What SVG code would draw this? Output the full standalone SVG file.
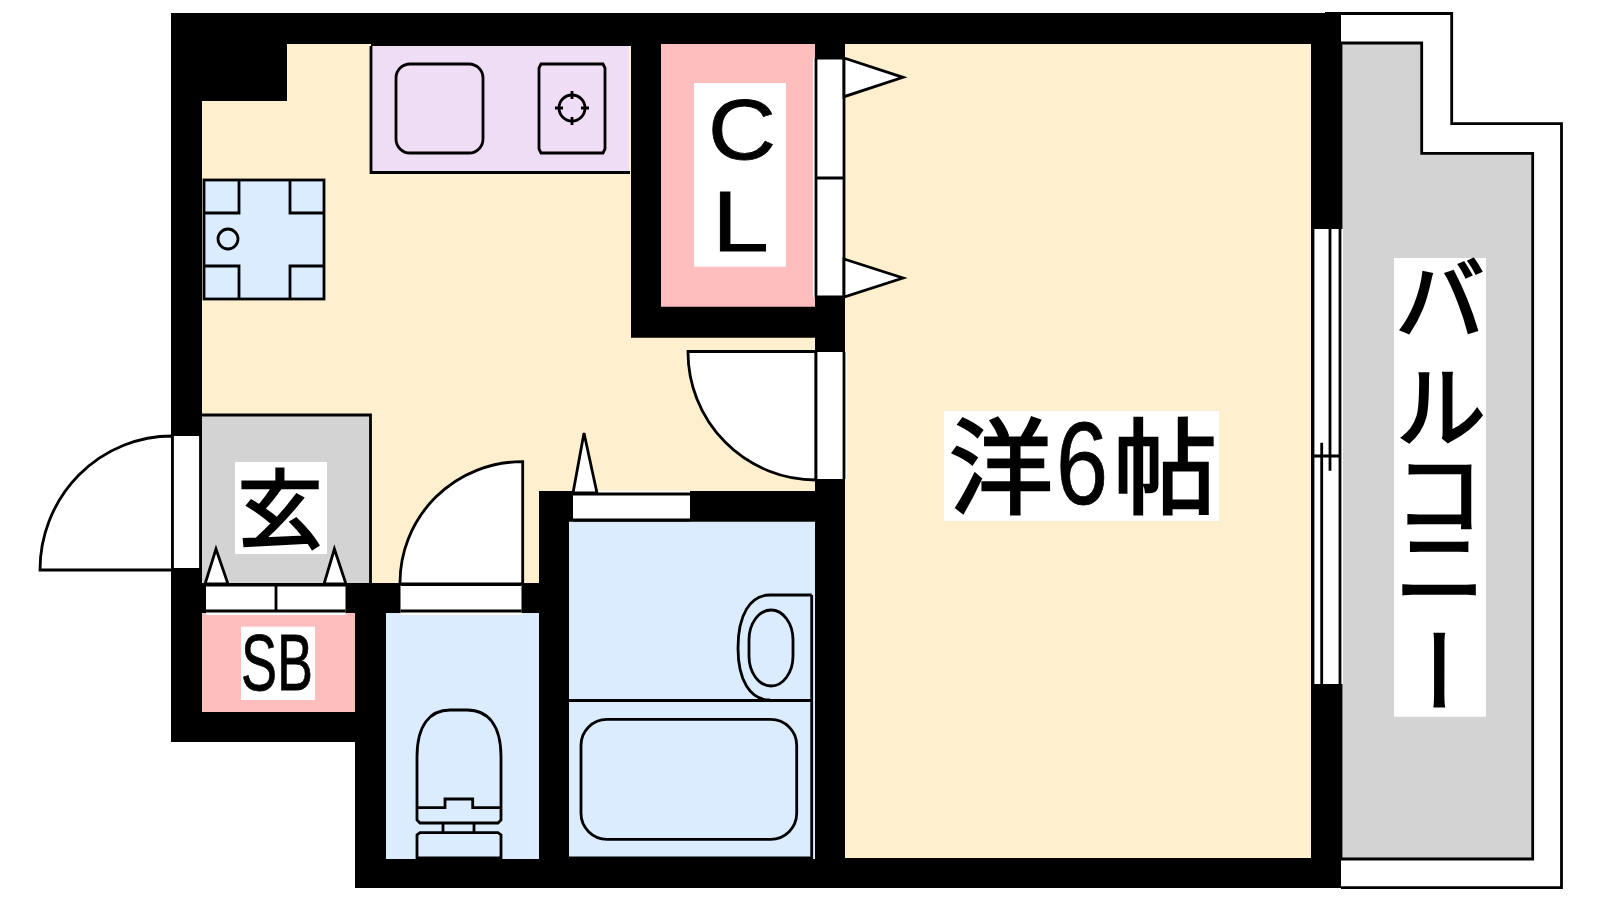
<svg xmlns="http://www.w3.org/2000/svg" width="1600" height="900" viewBox="0 0 1600 900">
<style>
.ln{fill:none;stroke:#000;stroke-width:2.8}
.wh{fill:#fff;stroke:#000;stroke-width:2.8}
.wl{fill:#000}
.lb{fill:#fff}
.fl{fill:#fef0ce}
.jp{font-family:"Noto Sans CJK JP","Liberation Sans",sans-serif;fill:#000;stroke:#000;stroke-width:2.5}
.en{font-family:"Liberation Sans",Arial,sans-serif;fill:#000;stroke:#000;stroke-width:.8}
</style>
<rect width="1600" height="900" fill="#fff"/>
<g id="balcony">
<path class="wh" d="M1325 13.500H1451.700V123.700H1561.500V887.700H1341"/>
<path d="M1341 43H1421.700V153.300H1532.700V859H1341Z" fill="#d3d3d3" stroke="#000" stroke-width="2.800"/>
<rect class="lb" x="1394" y="258" width="92" height="458.700"/>
<text class="jp" x="1440" y="252 360 447 520 625" font-size="92" style="writing-mode:vertical-rl">バルコニー</text>
</g>
<g id="room-floor">
<path class="fl" d="M202 101H287V44H631V337H815V491H539V583H202Z"/>
<rect class="fl" x="845" y="44" width="466" height="815"/>
</g>
<g id="kitchen">
<rect x="371" y="46" width="258" height="127" fill="#eeddf5"/>
<rect class="wl" x="371" y="44" width="260" height="2"/>
<path class="ln" d="M371 46V172.500H630"/>
<rect class="ln" x="396" y="64" width="87" height="89" rx="14"/>
<path class="ln" d="M541 64H603L605 68V149L603 153H541L539 149V68Z"/>
<circle class="ln" cx="572" cy="108" r="13"/>
<path class="ln" d="M572 91V99M572 117V125M555 108H563M581 108H589"/>
</g>
<g id="unit">
<rect x="204" y="180" width="120" height="119" fill="#dbecff" stroke="#000" stroke-width="2.800"/>
<path class="ln" d="M204 213H239V180M324 213H290V180M204 266H239V299M324 266H290V299"/>
<circle class="ln" cx="228" cy="239" r="10"/>
</g>
<g id="closet">
<rect x="661" y="44" width="154" height="263" fill="#ffbebe"/>
<rect class="lb" x="694" y="83" width="92" height="183.700"/>
<text class="en" x="708" y="159" font-size="85" textLength="68" lengthAdjust="spacingAndGlyphs">C</text>
<text class="en" x="712" y="250.700" font-size="85" textLength="57" lengthAdjust="spacingAndGlyphs">L</text>
</g>
<g id="entrance">
<rect x="202" y="414.500" width="168.500" height="168.500" fill="#d3d3d3"/>
<path class="ln" d="M202 415H370.500V583"/>
<rect class="lb" x="235" y="462" width="92" height="92"/>
<text class="jp" x="280" y="541" font-size="85" text-anchor="middle">玄</text>
</g>
<g id="shoebox">
<rect x="202" y="612.700" width="153" height="99.300" fill="#ffbebe"/>
<rect class="lb" x="241" y="626.700" width="74" height="73.300"/>
<text class="en" x="241" y="690" font-size="80" textLength="72" lengthAdjust="spacingAndGlyphs">SB</text>
</g>
<g id="toilet">
<rect x="386" y="612.700" width="153" height="246.300" fill="#dbecff"/>
<path class="ln" d="M417 820V757C417 725 430 710 450 710H467C488 710 501 725 501 757V820L498 823H420L417 820ZM417 807.700H445V799H472.700V807.700H501M443 823V832.700M474 823V832.700"/>
<path class="ln" d="M420 832.700H498L501 835V858H417V835Z"/>
</g>
<g id="bath">
<rect x="569" y="521.700" width="246" height="337.300" fill="#dbecff"/>
<path class="ln" d="M569 700.500H811.700M811.700 595V858H569"/>
<path class="ln" d="M811.700 595H770C750 595 738 615 738 648C738 680 750 700 770 700"/>
<rect class="ln" x="749" y="610" width="44" height="76" rx="22" ry="30"/>
<rect class="ln" x="581" y="719.300" width="215.700" height="120" rx="26"/>
</g>
<g id="walls">
<path class="wl" d="M171 13H1341V888H355V742H171ZM202 101V712H355V612.700H386V859H539V612.700H569V859H815V521.700H569V491H815V337.700H631V44H287V101ZM661 44V306.700H815V44ZM845 44V858H1311V44Z" fill-rule="evenodd"/>
<rect class="wl" x="355" y="583" width="184" height="30"/>
<rect class="wl" x="202" y="583" width="168" height="30"/>
<rect class="wl" x="539" y="491" width="30" height="122"/>
</g>
<g id="connectors">
<path class="wh" d="M172.500 436A132 134 0 0 0 40 570H172.500Z"/>
<rect x="172.500" y="436" width="28" height="132" fill="#fff"/>
<path class="ln" d="M172.500 436V568M200.500 436V568"/>
<path class="wh" d="M522.700 461.700A122 121 0 0 0 400 584H522.700Z"/>
<path class="wh" d="M816 351.500H688A128 128 0 0 0 816 480Z"/>
<rect x="816" y="352" width="31" height="127" fill="#fff"/>
<path class="ln" d="M816 352V479M844 352V479"/>
<rect x="813" y="58" width="31" height="239" fill="#fff"/>
<path class="ln" d="M816 58V297M844 58V297M816 178H844M816 58H844M816 297H844"/>
<path class="wh" d="M844 58L903 77.300L844 96.700Z"/>
<path class="wh" d="M844 259L903 278L844 297Z"/>
<rect x="206" y="585" width="139.500" height="30" fill="#fff"/>
<path class="ln" d="M204 585H346M206 611H345.500M276 585V611"/>
<path class="wh" d="M216 549L205 584H228Z"/>
<path class="wh" d="M334.400 549L324 584H346Z"/>
<rect x="400.500" y="585" width="121" height="30" fill="#fff"/>
<path class="ln" d="M400.500 584.500H521.500M400.500 611H521.500"/>
<rect x="573" y="491" width="117" height="30" fill="#fff"/>
<path class="ln" d="M573 494H690M573 520H690"/>
<path class="wh" d="M584 433L573 493H597Z"/>
<rect x="1312" y="229" width="31" height="455" fill="#fff"/>
<path class="ln" d="M1313 229V684M1340 229V684M1330 229V470.700M1321.700 442.700V684M1313 456H1340"/>
</g>
<g id="room-label">
<rect class="lb" x="944" y="411" width="275" height="110"/>
<text class="jp" x="949" y="506" font-size="104">洋</text>
<text class="en" transform="translate(1056 504) scale(.8 1)" font-size="117">6</text>
<text class="jp" x="1113" y="506" font-size="104">帖</text>
</g>
</svg>
